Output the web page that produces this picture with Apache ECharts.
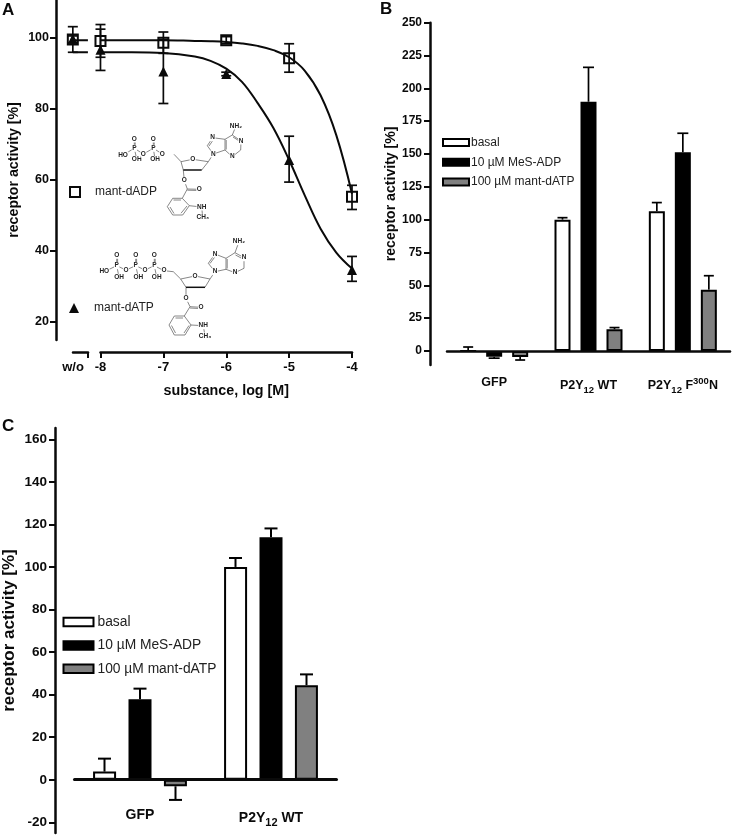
<!DOCTYPE html>
<html><head><meta charset="utf-8">
<style>html,body{margin:0;padding:0;background:#fff}#c{width:732px;height:835px}</style>
<script src="https://cdn.jsdelivr.net/npm/echarts@6/dist/echarts.min.js"></script>
</head><body><div id="c"></div>
<script>
// ---------- Panel A data ----------
const doseTicks = [-8,-7,-6,-5,-4];
const woPos = -8.44;
const doseX = [woPos,-8,-7,-6,-5,-4];
const adpMean = [99.4,99.0,98.5,99.2,94.1,55.2];
const adpLow  = [98.4,94.4,95.5,98.2,90.2,51.6];
const adpHigh = [100.4,103.6,101.5,100.2,98.2,58.4];
const atpMean = [99.6,96.5,90.4,89.7,65.5,34.6];
const atpLow  = [95.8,90.7,81.4,89.2,59.3,31.4];
const atpHigh = [103.0,102.3,99.4,90.2,72.2,38.4];
const curveX = [-8.44,-8.2,-8.1,-8,-7.5,-7,-6.5,-6.25,-6,-5.75,-5.5,-5.25,-5,-4.75,-4.5,-4.25,-4];
const adpCurveY = [99.2,99.2,null,99.2,99.2,99.2,99.0,98.9,98.7,98.3,97.6,96.4,94.4,90.6,83.7,72.5,56.0];
const atpCurveY = [95.8,95.8,null,95.8,95.8,95.6,94.6,93.4,91.2,87.5,81.5,74.5,65.5,55.5,46.2,39.5,35.0];
const yTicksA = [20,40,60,80,100];
// ---------- Panel B data ----------
const catsB = ['GFP','P2Y12 WT','P2Y12 F300N'];
const basalB = [0,100,106.4];
const basalErrB = [3,101.5,113];
const mesB = [-4.5,189.8,151.3];
const mesErrB = [-5.5,216,165.8];
const mantB = [-4.6,16.5,46.7];
const mantErrB = [-6.9,17.8,57.3];
const yTicksB = [0,25,50,75,100,125,150,175,200,225,250];
// ---------- Panel C data ----------
const catsC = ['GFP','P2Y12 WT'];
const basalC = [3.8,100];
const basalErrC = [9.9,104.2];
const mesC = [37.8,113.9];
const mesErrC = [42.8,118.1];
const mantC = [-3.1,44.4];
const mantErrC = [-9.5,49.5];
const yTicksC = [-20,0,20,40,60,80,100,120,140,160];

const INK = '#0a0a0a';
const FONT = '"Liberation Sans", Arial, sans-serif';

function zip(a,b){return a.map((v,i)=>[v,b[i]]);}
function yAxis(idx,min,max,ticks,size,nameGap,nameSize,margin){
  return {gridIndex:idx,type:'value',min,max,splitLine:{show:false},
    name:'receptor activity [%]',nameLocation:'middle',nameGap,
    nameTextStyle:{fontFamily:FONT,fontWeight:'bold',fontSize:nameSize,color:INK},
    axisLine:{show:true,lineStyle:{color:INK,width:2.5}},
    axisTick:{show:true,length:6,lineStyle:{color:INK,width:2},customValues:ticks},
    axisLabel:{fontFamily:FONT,fontWeight:'bold',fontSize:size,color:INK,margin,customValues:ticks}};
}
function catAxis(idx,cats,size,margin,lw){
  return {gridIndex:idx,type:'category',data:cats,z:5,
    axisLine:{show:true,onZero:true,lineStyle:{color:INK,width:lw}},
    axisTick:{show:false},
    axisLabel:{margin,interval:0,fontFamily:FONT,fontWeight:'bold',fontSize:size,color:INK,
      formatter:v=>v.replace('Y12','Y{sub|12}').replace('F300N','F{sup|300}N'),
      rich:{
        sub:{fontFamily:FONT,fontWeight:'bold',fontSize:size-3,color:INK,verticalAlign:'bottom',padding:[9,0,0,0]},
        sup:{fontFamily:FONT,fontWeight:'bold',fontSize:size-3,color:INK,verticalAlign:'top',padding:[0,0,9,0]}
      }}};
}
function barSeries(name,vals,ix,color,bw,gap){
  return {type:'bar',name,xAxisIndex:ix,yAxisIndex:ix,data:vals,barWidth:bw,barGap:gap,z:2,
    itemStyle:{color,borderColor:'#000',borderWidth:2}};
}
function barErr(name,vals,errs,ix,off,cap,lw){
  return {type:'custom',name:name+' err',xAxisIndex:ix,yAxisIndex:ix,silent:true,z:1,clip:false,
    data:vals.map((v,i)=>[i,v,errs[i]]),encode:{x:0,y:[1,2]},
    renderItem:(p,api)=>{
      const a=api.coord([api.value(0),api.value(1)]), b=api.coord([api.value(0),api.value(2)]);
      const x=a[0]+off, st={stroke:'#000',lineWidth:lw,fill:null};
      return {type:'group',children:[
        {type:'line',shape:{x1:x,y1:a[1],x2:x,y2:b[1]},style:st},
        {type:'line',shape:{x1:x-cap,y1:b[1],x2:x+cap,y2:b[1]},style:st}]};
    }};
}
function doseErr(name,lo,hi){
  return {type:'custom',name,xAxisIndex:0,yAxisIndex:0,silent:true,z:3,clip:false,
    data:doseX.map((x,i)=>[x,lo[i],hi[i]]),encode:{x:0,y:[1,2]},
    renderItem:(p,api)=>{
      const a=api.coord([api.value(0),api.value(1)]), b=api.coord([api.value(0),api.value(2)]);
      const st={stroke:INK,lineWidth:1.7,fill:null}, c=5;
      return {type:'group',children:[
        {type:'line',shape:{x1:a[0],y1:a[1],x2:a[0],y2:b[1]},style:st},
        {type:'line',shape:{x1:a[0]-c,y1:a[1],x2:a[0]+c,y2:a[1]},style:st},
        {type:'line',shape:{x1:a[0]-c,y1:b[1],x2:a[0]+c,y2:b[1]},style:st}]};
    }};
}
function curve(name,x,y){
  return {type:'line',name,xAxisIndex:0,yAxisIndex:0,data:zip(x,y),smooth:0.4,showSymbol:false,symbol:'none',clip:false,z:4,
    connectNulls:false,lineStyle:{color:INK,width:2}};
}
function legend(names,left,top,iw,ih,gap,size,pad,icon){
  return {data:names.map(n=>({name:n,icon})),left,top,orient:'vertical',itemWidth:iw,itemHeight:ih,itemGap:gap,padding:0,selectedMode:false,
    textStyle:{fontFamily:FONT,fontSize:size,color:'#222',padding:[0,0,0,pad]}};
}
function letter(t,left,top){return {text:t,left,top,padding:0,textStyle:{fontFamily:FONT,fontWeight:'bold',fontSize:17,color:INK}};}

// ---------- chemical structure decorations (not data) ----------
function mol(bonds,bold,atoms){
  const out=[];
  bonds.forEach(b=>out.push({type:'line',shape:{x1:b[0],y1:b[1],x2:b[2],y2:b[3]},style:{stroke:'#555',lineWidth:0.7},z:1,silent:true}));
  bold.forEach(b=>out.push({type:'line',shape:{x1:b[0],y1:b[1],x2:b[2],y2:b[3]},style:{stroke:'#111',lineWidth:1.5},z:1,silent:true}));
  atoms.forEach(a=>out.push({type:'text',x:a[1],y:a[2],z:2,silent:true,style:{text:a[0],fontFamily:FONT,fontWeight:'bold',fontSize:6.5,fill:'#222',align:'center',verticalAlign:'middle',backgroundColor:'#fff',padding:[0,0.5]}}));
  return out;
}
const mol1 = mol([
 [123,155,134.3,148.3],[134.3,148.3,134.3,139],[135.2,148.3,135.2,139],[134.3,148.3,136.7,159],[134.3,148.3,143.3,154],[143.3,154,153.3,148.3],
 [153.3,148.3,153.3,139],[154.2,148.3,154.2,139],[153.3,148.3,155,159],[153.3,148.3,162.3,154],
 [174,154.3,181,161.7],[181,161.7,192.7,159.3],[192.7,159.3,208.3,161.7],[208.3,161.7,201.7,170],[181,161.7,183.3,170],
 [183.3,170,184.3,180.7],[184.3,180.7,187.3,189],[187.3,189,199.3,189.3],[187.3,190.2,199.3,190.5],[187.3,189,182.3,198.3],
 [182.3,198.3,189.3,205.7],[189.3,205.7,182.7,215],[182.7,215,172.7,215],[172.7,215,167.3,206.7],[167.3,206.7,172.7,198.3],[172.7,198.3,182.3,198.3],
 [173.5,200,181,200],[170,207,174,213.5],[181,213.2,187,206],
 [189.3,205.7,201.7,207],[201.7,207,202.7,217.3],
 [208.3,161.7,213.3,154],[213.3,154,207.3,145.7],[207.3,145.7,212.7,137.7],[209,146,213.5,139.5],[212.7,137.7,225,139.3],[225,139.3,225,150],[226.2,140,226.2,149.5],
 [225,150,213.3,154],[225,139.3,232.3,135],[232.3,135,236,126],[232.3,135,241,141],[233,137,240,141.5],[241,141,240.7,150],[240.7,150,232.3,156.7],[232.3,156.7,225,150]
],[[183.3,170,201.7,170]],[
 ['HO',123,155],['P',134.3,148.3],['O',134.3,139],['OH',136.7,159.6],['O',143.3,154],['P',153.3,148.3],['O',153.3,139],['OH',155,159.6],['O',162.3,154],
 ['O',192.7,159.3],['O',184.3,180.7],['O',199.3,189.6],['NH',201.7,207],['CH₃',202.7,217.3],['N',213.3,154],['N',212.7,137.7],['NH₂',236,126],['N',241,141],['N',232.3,156.7]
]);
const mol2 = mol([
 [104.3,271.7,116.7,265.7],[116.7,265.7,116.7,255.3],[117.6,265.7,117.6,255.3],[116.7,265.7,119,277],[116.7,265.7,126,270],[126,270,135.7,265.7],
 [135.7,265.7,135.7,255.3],[136.6,265.7,136.6,255.3],[135.7,265.7,138.3,277],[135.7,265.7,145,270],[145,270,154.3,265.7],
 [154.3,265.7,154.3,255.3],[155.2,265.7,155.2,255.3],[154.3,265.7,156.7,277],[154.3,265.7,164,270.7],[164,270.7,173.3,271.7],[173.3,271.7,180.7,279],
 [180.7,279,195,276],[195,276,210,279],[210,279,205,287.3],[180.7,279,186,287.3],[186,287.3,186,298.3],[186,298.3,190,306.7],[190,306.7,201,307.3],[190,308,201,308.6],[190,306.7,184.3,316],
 [184.3,316,191,325],[191,325,185,335],[185,335,174.3,335],[174.3,335,169,325],[169,325,174.3,316],[174.3,316,184.3,316],[175.5,318,183,318],[171.5,325.5,175.5,333],[184,333,189,325.5],
 [191,325,203.3,325.7],[203.3,325.7,205,336],
 [210,279,215,271.7],[215,271.7,208.3,263.3],[208.3,263.3,215,254],[210,263.5,215.5,256],[215,254,226,258.3],[226,258.3,226,269.3],[227.2,259,227.2,268.5],[226,269.3,215,271.7],
 [226,258.3,235,252.7],[235,252.7,239,241.7],[235,252.7,244,257.7],[235.5,255,243,259],[244,257.7,244,268.3],[244,268.3,235,272.7],[235,272.7,226,269.3]
],[[186,287.3,205,287.3]],[
 ['HO',104.3,271.7],['P',116.7,265.7],['O',116.7,255.3],['OH',119,277.3],['O',126,270],['P',135.7,265.7],['O',135.7,255.3],['OH',138.3,277.3],['O',145,270],
 ['P',154.3,265.7],['O',154.3,255.3],['OH',156.7,277.3],['O',164,270.7],['O',195,276],['O',186,298.3],['O',201,307.6],['NH',203.3,325.7],['CH₃',205,336],
 ['N',215,271.7],['N',215,254],['N',235,272.7],['N',244,257.7],['NH₂',239,241.7]
]);

const chart = echarts.init(document.getElementById('c'),null,{renderer:'canvas'});
const names=['basal','10 µM MeS-ADP','100 µM mant-dATP'];
const M='none';
const hiddenY=(i,min,max)=>({gridIndex:i,type:'value',min,max,show:false});
const hiddenX=i=>({gridIndex:i,type:'value',min:0,max:1,show:false});
chart.setOption({
  animation:false,
  backgroundColor:'#fff',
  title:[letter('A',2,2),letter('B',380,1),letter('C',2,418)],
  grid:[
    {left:56,top:0,width:296,height:340,outerBoundsMode:M},
    {left:100.5,top:340,width:251.5,height:12,outerBoundsMode:M},
    {left:73,top:340,width:15,height:12,outerBoundsMode:M},
    {left:447,top:22.7,width:283,height:342.3,outerBoundsMode:M},
    {left:74.5,top:428,width:262,height:372,outerBoundsMode:M},
    {left:430,top:22.7,width:20,height:342.3,outerBoundsMode:M},
    {left:55,top:428,width:20,height:405,outerBoundsMode:M}
  ],
  xAxis:[
    {gridIndex:0,type:'value',min:-8.7075,max:-4,show:false},
    {gridIndex:1,type:'value',min:-8,max:-4,
      name:'substance, log [M]',nameLocation:'middle',nameGap:32,
      nameTextStyle:{fontFamily:FONT,fontWeight:'bold',fontSize:14.3,color:INK},
      axisLine:{show:true,lineStyle:{color:INK,width:2.5}},
      axisTick:{show:true,length:6,lineStyle:{color:INK,width:2},customValues:doseTicks},
      axisLabel:{margin:9,fontFamily:FONT,fontWeight:'bold',fontSize:13,color:INK,customValues:doseTicks,formatter:v=>String(v),hideOverlap:false},
      splitLine:{show:false}},
    {gridIndex:2,type:'value',min:0,max:1,
      axisLine:{show:true,lineStyle:{color:INK,width:2.5}},
      axisTick:{show:true,length:6,lineStyle:{color:INK,width:2},customValues:[1]},
      axisLabel:{margin:9,fontFamily:FONT,fontWeight:'bold',fontSize:13,color:INK,customValues:[0],formatter:()=>'w/o'},
      splitLine:{show:false}},
    catAxis(3,catsB,12.5,11,2.5),
    catAxis(4,catsC,14,8,3),
    hiddenX(5),hiddenX(6)
  ],
  yAxis:[
    yAxis(0,14.9,110.5,yTicksA,12.5,35,14.2,7),
    hiddenY(1,0,1),hiddenY(2,0,1),
    hiddenY(3,-10.7,250),hiddenY(4,-9.54,165.3),
    yAxis(5,-10.7,250,yTicksB,12,32,14.1,8),
    yAxis(6,-25,165.3,yTicksC,13.5,37.5,17,8)
  ],
  legend:[
    legend(['mant-dADP'],69,186,10,10,0,12,10,'rect'),
    legend(['mant-dATP'],69,302,10,10,0,12,10,'triangle'),
    legend(names,442,136.5,26,7,7.7,12,-3,'rect'),
    legend(names,62.5,615,30,8.5,9.4,13.8,-1,'rect')
  ],
  series:[
    curve('adp curve',curveX,adpCurveY),
    curve('atp curve',curveX,atpCurveY),
    doseErr('adp err',adpLow,adpHigh),
    doseErr('atp err',atpLow,atpHigh),
    {type:'scatter',name:'mant-dADP',xAxisIndex:0,yAxisIndex:0,data:zip(doseX,adpMean),clip:false,symbol:'rect',symbolSize:10,z:5,
      itemStyle:{color:'rgba(255,255,255,0)',borderColor:INK,borderWidth:2,opacity:1}},
    {type:'scatter',name:'mant-dATP',xAxisIndex:0,yAxisIndex:0,data:zip(doseX,atpMean),clip:false,symbol:'triangle',symbolSize:10,z:6,
      itemStyle:{color:INK,opacity:1}},

    barErr('b0',basalB,basalErrB,3,-26,5,1.7),
    barErr('b1',mesB,mesErrB,3,0,5.5,1.7),
    barErr('b2',mantB,mantErrB,3,26,5,1.7),
    barSeries('basal',basalB,3,'#fff',16,'62.5%'),
    barSeries('10 µM MeS-ADP',mesB,3,'#000',16,'62.5%'),
    barSeries('100 µM mant-dATP',mantB,3,'#808080',16,'62.5%'),

    barErr('c0',basalC,basalErrC,4,-35.5,6.5,2),
    barErr('c1',mesC,mesErrC,4,0,6.5,2),
    barErr('c2',mantC,mantErrC,4,35.5,6.5,2),
    barSeries('basal',basalC,4,'#fff',23,'54%'),
    barSeries('10 µM MeS-ADP',mesC,4,'#000',23,'54%'),
    barSeries('100 µM mant-dATP',mantC,4,'#808080',23,'54%')
  ],
  graphic:{elements:mol1.concat(mol2)}
});
</script></body></html>
